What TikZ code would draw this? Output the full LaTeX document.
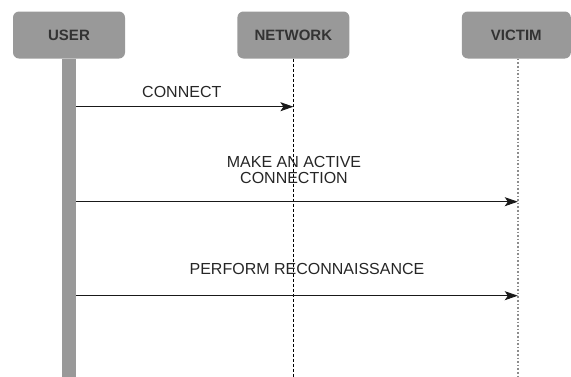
\documentclass[tikz,border=0pt]{standalone}
\usepackage{fontspec}
\setmainfont{Liberation Sans}
\usetikzlibrary{positioning, arrows.meta}
\definecolor{boxgray}{HTML}{999999}
\definecolor{txtgray}{HTML}{333333}
\definecolor{dotgray}{HTML}{8C8C8C}

\begin{document}
\begin{tikzpicture}[
				x=1pt, y=-1pt,
				>={Stealth[length=13pt, width=9pt, inset=3pt]},
				node distance=112pt,
				actor/.style={rectangle, rounded corners=6pt, fill=boxgray, text=txtgray,
					minimum width=112pt, minimum height=47pt, inner sep=0pt,
					font=\fontsize{15}{18}\selectfont\bfseries},
				msg/.style={->, line width=0.9pt, draw=black!90},
				msgtext/.style={font=\fontsize{16}{16}\selectfont, text=black!85, align=center},
				netline/.style={line width=0.9pt, dash pattern=on 3pt off 2pt},
				vicline/.style={line width=1.6pt, draw=dotgray, dash pattern=on 1.6pt off 2pt}]

			\useasboundingbox (0,0) rectangle (571,376);

			\node[actor] (user) at (69,35) {USER};
			\node[actor, right=of user] (network) {NETWORK};
			\node[actor, right=of network, minimum width=109pt] (victim) {VICTIM};

			% lifelines
			\node[fill=boxgray, minimum width=14pt, minimum height=318pt, inner sep=0pt, below=0pt of user] (user_life) {};
			\draw[netline] (network.south) -- (network.south |- user_life.south);
			\draw[vicline] ([xshift=1.5pt]victim.south) -- ([xshift=1.5pt]victim.south |- user_life.south);

			\coordinate[below=48pt of network.south] (net_a);
			\coordinate[below=143pt of victim.south, xshift=1.5pt] (vic_b);
			\coordinate[below=237pt of victim.south, xshift=1.5pt] (vic_c);
			\coordinate (user_a) at (user_life.east |- net_a);
			\coordinate (user_b) at (user_life.east |- vic_b);
			\coordinate (user_c) at (user_life.east |- vic_c);

			\draw	(user_a) edge[msg] node[msgtext, above=5pt, xshift=-3pt] {CONNECT} (net_a)
					(user_b) edge[msg] node[msgtext, above=14pt, xshift=-3pt] {MAKE AN ACTIVE\\CONNECTION} (vic_b)
					(user_c) edge[msg] node[msgtext, above=17pt, xshift=10pt] {PERFORM RECONNAISSANCE} (vic_c);

		\end{tikzpicture}
\end{document}
